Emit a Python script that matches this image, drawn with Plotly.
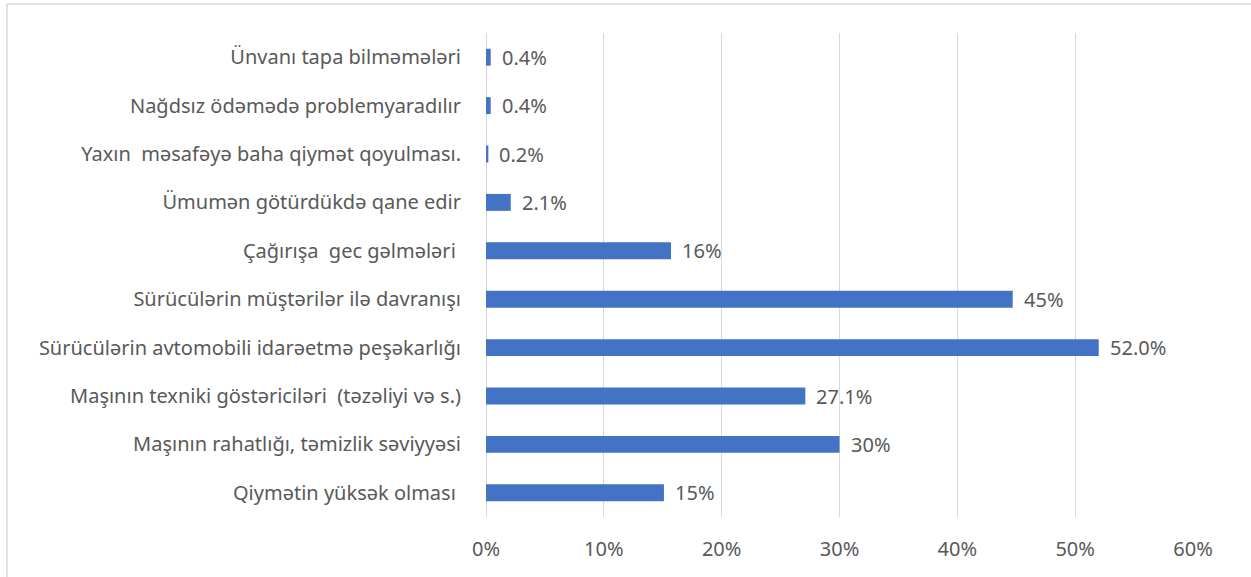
import plotly.graph_objects as go

categories = [
    "Qiymətin yüksək olması ",
    "Maşının rahatlığı, təmizlik səviyyəsi",
    "Maşının texniki göstəriciləri  (təzəliyi və s.)",
    "Sürücülərin avtomobili idarəetmə peşəkarlığı",
    "Sürücülərin müştərilər ilə davranışı",
    "Çağırışa  gec gəlmələri ",
    "Ümumən götürdükdə qane edir",
    "Yaxın  məsafəyə baha qiymət qoyulması.",
    "Nağdsız ödəmədə problemyaradılır",
    "Ünvanı tapa bilməmələri",
]
values = [15.1, 30.0, 27.1, 52.0, 44.7, 15.7, 2.1, 0.2, 0.4, 0.4]
labels = ["15%", "30%", "27.1%", "52.0%", "45%", "16%", "2.1%", "0.2%", "0.4%", "0.4%"]
tick_vals = [0, 10, 20, 30, 40, 50, 60]
tick_text = ["0%", "10%", "20%", "30%", "40%", "50%", "60%"]

FONT = "Noto Sans"
GREY = "#595959"
FS = 20

fig = go.Figure()
fig.add_trace(go.Bar(
    x=values, y=categories, orientation="h",
    marker=dict(color="#4472C4", line=dict(width=0)),
    hoverinfo="skip",
))

for v, c, t in zip(values, categories, labels):
    fig.add_annotation(x=v, y=c, text=t, showarrow=False, xanchor="left",
                       xshift=9, font=dict(family=FONT, size=FS, color=GREY))

# outer chart border (left and top visible)
fig.add_shape(type="line", xref="paper", yref="paper",
              x0=-0.6775, x1=-0.6775, y0=1.06, y1=-0.2,
              line=dict(color="#D9D9D9", width=1.5))
fig.add_shape(type="line", xref="paper", yref="paper",
              x0=-0.6775, x1=1.1, y0=1.06, y1=1.06,
              line=dict(color="#D9D9D9", width=1.5))

fig.update_layout(
    width=1251, height=577,
    margin=dict(l=486, r=58, t=33, b=60),
    paper_bgcolor="white", plot_bgcolor="white",
    bargap=0.65,
    showlegend=False,
    hovermode=False,
    font=dict(family=FONT, size=FS, color=GREY),
    xaxis=dict(range=[0, 60], tickvals=tick_vals, ticktext=tick_text,
               showgrid=True, gridcolor="#D9D9D9", gridwidth=1,
               zeroline=True, zerolinecolor="#D9D9D9", zerolinewidth=1,
               showline=False, ticks="", ticklabelstandoff=18,
               tickfont=dict(family=FONT, size=FS, color=GREY), fixedrange=True),
    yaxis=dict(showgrid=False, showline=False, ticks="", ticklabelstandoff=24,
               tickfont=dict(family=FONT, size=FS, color=GREY), fixedrange=True),
)

fig.write_html("out.html", config={"displayModeBar": False},
               post_script="document.body.style.margin='0';")
